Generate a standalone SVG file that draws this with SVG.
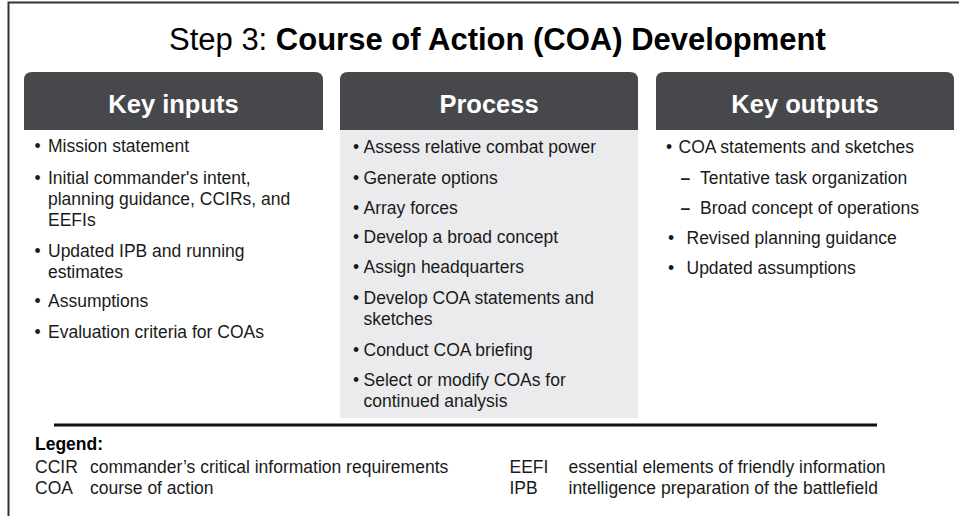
<svg xmlns="http://www.w3.org/2000/svg" width="959" height="516" viewBox="0 0 959 516">
<style>
  text { font-family: "Liberation Sans", Arial, sans-serif; fill: #1a1a1a; }
  .title { font-size: 31px; fill: #000; }
  .hdr { fill: #47484b; }
  .hdrtxt { font-size: 25.5px; font-weight: bold; fill: #fff; text-anchor: middle; }
  .body { font-size: 17.5px; }
  .dash { font-size: 17.5px; font-weight: bold; }
  .leg { font-size: 17.5px; }
  .legb { font-size: 17.5px; font-weight: bold; fill: #000; }
</style>
<rect x="0" y="0" width="959" height="516" fill="#fff"/>
<g id="frame">
  <path d="M8.5 516 V2.5 H959" fill="none" stroke="#333" stroke-width="2"/>
</g>
<g id="title">
  <text class="title" x="169" y="50">Step 3: <tspan font-weight="bold">Course of Action (COA) Development</tspan></text>
</g>
<g id="connectors"></g>
<g id="inputs">
  <path class="hdr" d="M24 130 V80 Q24 72 32 72 H315 Q323 72 323 80 V130 Z"/>
  <text class="hdrtxt" x="173.5" y="113">Key inputs</text>
  <g class="body">
    <text class="body" x="34.5" y="152">•</text><text class="body" x="48" y="152">Mission statement</text>
    <text class="body" x="34.5" y="183.5">•</text><text class="body" x="48" y="183.5">Initial commander's intent,</text>
    <text class="body" x="48" y="204.5">planning guidance, CCIRs, and</text>
    <text class="body" x="48" y="225.5">EEFIs</text>
    <text class="body" x="34.5" y="256.5">•</text><text class="body" x="48" y="256.5">Updated IPB and running</text>
    <text class="body" x="48" y="277.5">estimates</text>
    <text class="body" x="34.5" y="307">•</text><text class="body" x="48" y="307">Assumptions</text>
    <text class="body" x="34.5" y="337.5">•</text><text class="body" x="48" y="337.5">Evaluation criteria for COAs</text>
  </g>
</g>
<g id="process">
  <rect x="340" y="130" width="298" height="288" fill="#ebebed"/>
  <path class="hdr" d="M340 130 V80 Q340 72 348 72 H630 Q638 72 638 80 V130 Z"/>
  <text class="hdrtxt" x="489" y="113">Process</text>
  <text class="body" x="353" y="153">•</text><text class="body" x="363.5" y="153">Assess relative combat power</text>
  <text class="body" x="353" y="183.5">•</text><text class="body" x="363.5" y="183.5">Generate options</text>
  <text class="body" x="353" y="213.5">•</text><text class="body" x="363.5" y="213.5">Array forces</text>
  <text class="body" x="353" y="243">•</text><text class="body" x="363.5" y="243">Develop a broad concept</text>
  <text class="body" x="353" y="273">•</text><text class="body" x="363.5" y="273">Assign headquarters</text>
  <text class="body" x="353" y="303.5">•</text><text class="body" x="363.5" y="303.5">Develop COA statements and</text>
  <text class="body" x="363.5" y="325">sketches</text>
  <text class="body" x="353" y="356">•</text><text class="body" x="363.5" y="356">Conduct COA briefing</text>
  <text class="body" x="353" y="386">•</text><text class="body" x="363.5" y="386">Select or modify COAs for</text>
  <text class="body" x="363.5" y="407">continued analysis</text>
</g>
<g id="outputs">
  <path class="hdr" d="M656 130 V80 Q656 72 664 72 H946 Q954 72 954 80 V130 Z"/>
  <text class="hdrtxt" x="805" y="113">Key outputs</text>
  <text class="body" x="666" y="153">•</text><text class="body" x="678.5" y="153">COA statements and sketches</text>
  <text class="dash" x="680.5" y="183.5">–</text><text class="body" x="700" y="183.5">Tentative task organization</text>
  <text class="dash" x="680.5" y="213.5">–</text><text class="body" x="700" y="213.5">Broad concept of operations</text>
  <text class="body" x="668" y="243.5">•</text><text class="body" x="686.5" y="243.5">Revised planning guidance</text>
  <text class="body" x="668" y="273.5">•</text><text class="body" x="686.5" y="273.5">Updated assumptions</text>
</g>
<g id="divider">
  <line x1="54" y1="425" x2="877" y2="425" stroke="#111" stroke-width="3"/>
</g>
<g id="legend">
  <text class="legb" x="35" y="450">Legend:</text>
  <text class="leg" x="35" y="472.5">CCIR</text><text class="leg" x="90" y="472.5">commander’s critical information requirements</text>
  <text class="leg" x="35" y="493.5">COA</text><text class="leg" x="90" y="493.5">course of action</text>
  <text class="leg" x="509.5" y="472.5">EEFI</text><text class="leg" x="568.5" y="472.5">essential elements of friendly information</text>
  <text class="leg" x="509.5" y="493.5">IPB</text><text class="leg" x="568.5" y="493.5">intelligence preparation of the battlefield</text>
</g>
</svg>
